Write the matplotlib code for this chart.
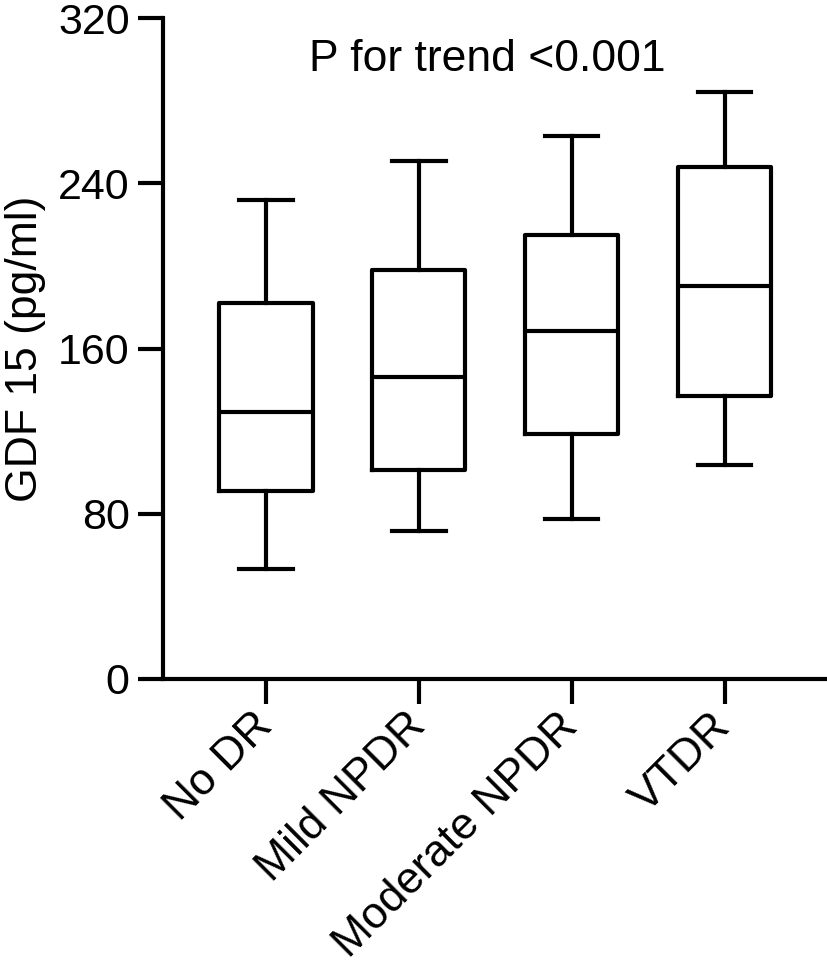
import matplotlib.pyplot as plt
import numpy as np

plt.rcParams['font.family'] = ['Liberation Sans', 'DejaVu Sans']

groups = ["No DR", "Mild NPDR", "Moderate NPDR", "VTDR"]
whisker_low = [53.4, 71.8, 77.6, 103.8]
q1 = [91.2, 101.0, 118.7, 137.1]
median = [129.1, 146.4, 168.6, 190.3]
q3 = [182.1, 198.3, 215.1, 248.0]
whisker_high = [231.8, 250.8, 263.1, 284.1]

stats = []
for i in range(len(groups)):
    stats.append({"label": groups[i], "whislo": whisker_low[i], "q1": q1[i], "med": median[i],
                  "q3": q3[i], "whishi": whisker_high[i], "fliers": []})

fig = plt.figure(figsize=(8.27, 9.68), dpi=100)
ax = fig.add_axes([0.197, 0.2986, 0.803, 0.6825])

lw = 3.0
ax.bxp(stats, positions=range(len(groups)), widths=0.61, showfliers=False,
       boxprops=dict(color="black", linewidth=lw),
       medianprops=dict(color="black", linewidth=lw),
       whiskerprops=dict(color="black", linewidth=lw),
       capprops=dict(color="black", linewidth=lw),
       capwidths=0.35)

ax.set_xlim(-0.674, 3.67)
ax.set_ylim(0, 320)
ax.set_yticks([0, 80, 160, 240, 320])
ax.spines["top"].set_visible(False)
ax.spines["right"].set_visible(False)
ax.spines["left"].set_linewidth(lw)
ax.spines["bottom"].set_linewidth(lw)
ax.tick_params(axis="both", width=lw, length=18, color="black")
ax.tick_params(axis="y", pad=6, labelsize=31)
ax.tick_params(axis="x", pad=11.5)
ax.set_xticks(range(len(groups)))
ax.set_xticklabels(groups, rotation=45, ha="right", va="center", rotation_mode="anchor", fontsize=32)
ax.set_ylabel("GDF 15 (pg/ml)", fontsize=32)
ax.yaxis.set_label_coords(-0.176, 0.5)
ax.text(1.45, 300, "P for trend <0.001", ha="center", va="center", fontsize=32)

fig.savefig("out.png", dpi=100)
